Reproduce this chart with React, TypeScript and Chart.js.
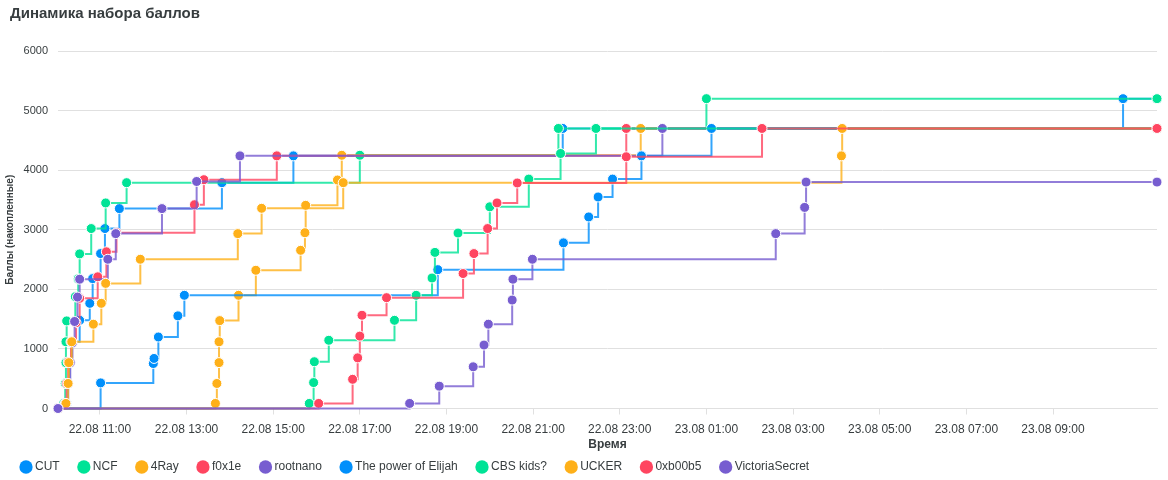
import { useEffect, useRef } from "react";
import { Chart, registerables } from "chart.js";

Chart.register(...registerables);

// ---------- data ----------
const teamNames = [
  "CUT",
  "NCF",
  "4Ray",
  "f0x1e",
  "rootnano",
  "The power of Elijah",
  "CBS kids?",
  "UCKER",
  "0xb00b5",
  "VictoriaSecret",
];

const teamColors = [
  "#008FFB",
  "#00E396",
  "#FEB019",
  "#FF4560",
  "#775DD0",
  "#008FFB",
  "#00E396",
  "#FEB019",
  "#FF4560",
  "#775DD0",
];

const xStart = "22.08 10:02";
const xEnd = "23.08 11:24";

const xTickLabels = [
  "22.08 11:00",
  "22.08 13:00",
  "22.08 15:00",
  "22.08 17:00",
  "22.08 19:00",
  "22.08 21:00",
  "22.08 23:00",
  "23.08 01:00",
  "23.08 03:00",
  "23.08 05:00",
  "23.08 07:00",
  "23.08 09:00",
];

const yTickValues = [0, 1000, 2000, 3000, 4000, 5000, 6000];

const cutTimes = [
  "22.08 10:02", "22.08 10:14", "22.08 10:16", "22.08 10:18", "22.08 10:21",
  "22.08 10:32", "22.08 10:46", "22.08 10:50", "22.08 11:01", "22.08 11:07",
  "22.08 11:27", "22.08 13:49", "22.08 15:28", "22.08 21:41", "23.08 10:37",
  "23.08 11:24",
];
const cutScores = [0, 85, 420, 770, 1120, 1480, 1765, 2180, 2600, 3020, 3355, 3790, 4240, 4700, 5200, 5200];

const ncfTimes = [
  "22.08 10:02", "22.08 10:10", "22.08 10:12", "22.08 10:13", "22.08 10:13",
  "22.08 10:14", "22.08 10:26", "22.08 10:30", "22.08 10:32", "22.08 10:48",
  "22.08 11:08", "22.08 11:37", "22.08 17:00", "22.08 21:35", "23.08 01:00",
  "23.08 11:24",
];
const ncfScores = [0, 85, 420, 770, 1120, 1470, 1875, 2175, 2595, 3020, 3450, 3790, 4250, 4700, 5200, 5200];

const ray4Times = [
  "22.08 10:02", "22.08 13:40", "22.08 13:42", "22.08 13:45", "22.08 13:45",
  "22.08 13:46", "22.08 14:12", "22.08 14:36", "22.08 15:38", "22.08 15:44",
  "22.08 15:45", "22.08 16:29", "22.08 16:35", "22.08 23:29", "23.08 11:24",
];
const ray4Scores = [0, 85, 420, 770, 1120, 1475, 1900, 2320, 2655, 2950, 3410, 3835, 4250, 4700, 4700];

const f0x1eTimes = [
  "22.08 10:02", "22.08 10:12", "22.08 10:14", "22.08 10:16", "22.08 10:20",
  "22.08 10:27", "22.08 10:32", "22.08 10:57", "22.08 11:09", "22.08 11:23",
  "22.08 13:11", "22.08 13:24", "22.08 15:05", "22.08 23:09", "23.08 11:24",
];
const f0x1eScores = [0, 85, 420, 780, 1120, 1440, 1850, 2210, 2630, 2950, 3420, 3840, 4240, 4700, 4700];

const rootnanoTimes = [
  "22.08 10:02", "22.08 10:13", "22.08 10:16", "22.08 10:19", "22.08 10:22",
  "22.08 10:25", "22.08 10:29", "22.08 10:32", "22.08 11:11", "22.08 11:22",
  "22.08 12:26", "22.08 13:14", "22.08 14:14", "22.08 23:59", "23.08 11:24",
];
const rootnanoScores = [0, 85, 420, 770, 1100, 1460, 1870, 2170, 2505, 2935, 3355, 3810, 4240, 4700, 4700];

const elijahTimes = [
  "22.08 10:02", "22.08 11:01", "22.08 12:14", "22.08 12:15", "22.08 12:21",
  "22.08 12:48", "22.08 12:57", "22.08 18:48", "22.08 21:42", "22.08 22:17",
  "22.08 22:30", "22.08 22:50", "22.08 23:30", "23.08 01:07", "23.08 11:24",
];
const elijahScores = [0, 430, 755, 840, 1200, 1555, 1900, 2330, 2780, 3215, 3550, 3850, 4240, 4700, 4700];

const cbsTimes = [
  "22.08 10:02", "22.08 15:50", "22.08 15:56", "22.08 15:57", "22.08 16:17",
  "22.08 17:48", "22.08 18:18", "22.08 18:40", "22.08 18:44", "22.08 19:16",
  "22.08 20:00", "22.08 20:54", "22.08 21:38", "22.08 22:27", "23.08 11:24",
];
const cbsScores = [0, 85, 435, 785, 1145, 1480, 1900, 2190, 2620, 2945, 3385, 3850, 4280, 4700, 4700];

const uckerTimes = [
  "22.08 10:02", "22.08 10:13", "22.08 10:16", "22.08 10:17", "22.08 10:21",
  "22.08 10:51", "22.08 11:02", "22.08 11:08", "22.08 11:56", "22.08 14:11",
  "22.08 14:44", "22.08 16:37", "23.08 04:07", "23.08 04:08", "23.08 11:24",
];
const uckerScores = [0, 85, 420, 770, 1120, 1415, 1765, 2100, 2505, 2935, 3360, 3790, 4240, 4700, 4700];

const b00b5Times = [
  "22.08 10:02", "22.08 16:03", "22.08 16:50", "22.08 16:57", "22.08 17:00",
  "22.08 17:03", "22.08 17:37", "22.08 19:23", "22.08 19:38", "22.08 19:57",
  "22.08 20:10", "22.08 20:38", "22.08 23:09", "23.08 02:17", "23.08 11:24",
];
const b00b5Scores = [0, 85, 490, 850, 1215, 1565, 1860, 2265, 2600, 3020, 3450, 3785, 4225, 4700, 4700];

const victoriaTimes = [
  "22.08 10:02", "22.08 18:09", "22.08 18:50", "22.08 19:37", "22.08 19:52",
  "22.08 19:58", "22.08 20:31", "22.08 20:32", "22.08 20:59", "23.08 02:36",
  "23.08 03:16", "23.08 03:18", "23.08 11:24",
];
const victoriaScores = [0, 85, 375, 700, 1065, 1415, 1820, 2170, 2505, 2935, 3375, 3800, 3800];

const teamTimes = [
  cutTimes, ncfTimes, ray4Times, f0x1eTimes, rootnanoTimes,
  elijahTimes, cbsTimes, uckerTimes, b00b5Times, victoriaTimes,
];
const teamScores = [
  cutScores, ncfScores, ray4Scores, f0x1eScores, rootnanoScores,
  elijahScores, cbsScores, uckerScores, b00b5Scores, victoriaScores,
];

// ---------- helpers ----------
function parseTime(s: string): number {
  const day = parseInt(s.slice(0, 2), 10);
  const hh = parseInt(s.slice(6, 8), 10);
  const mm = parseInt(s.slice(9, 11), 10);
  return (day - 22) * 24 + hh + mm / 60;
}

function formatTime(h: number): string {
  const total = Math.round(h * 60);
  const day = 22 + Math.floor(total / 1440);
  const rem = total % 1440;
  const hh = Math.floor(rem / 60);
  const mm = rem % 60;
  const p = (n: number) => String(n).padStart(2, "0");
  return `${p(day)}.08 ${p(hh)}:${p(mm)}`;
}

function withAlpha(hex: string, a: number): string {
  const r = parseInt(hex.slice(1, 3), 16);
  const g = parseInt(hex.slice(3, 5), 16);
  const b = parseInt(hex.slice(5, 7), 16);
  return `rgba(${r},${g},${b},${a})`;
}

const FONT = "'Liberation Sans', Arial, Helvetica, sans-serif";
const TEXT = "#373d3f";
const GRID = "#e0e0e0";

const legendShift = {
  id: "legendShift",
  afterLayout(chart: any) {
    if (chart.legend) chart.legend.left -= 8.2;
  },
};

export default function App() {
  const canvasRef = useRef<HTMLCanvasElement | null>(null);

  useEffect(() => {
    if (!canvasRef.current) return;
    const n = teamNames.length;
    const datasets = teamNames.map((name, i) => ({
      label: name,
      data: teamTimes[i].map((t, j) => ({ x: parseTime(t), y: teamScores[i][j] })),
      stepped: true as const,
      borderColor: withAlpha(teamColors[i], 0.8),
      backgroundColor: teamColors[i],
      borderWidth: 2,
      pointRadius: 5,
      pointBackgroundColor: teamColors[i],
      pointBorderColor: "#ffffff",
      pointBorderWidth: 1,
      fill: false,
      clip: false as const,
      order: n - i,
    }));

    const chart = new Chart(canvasRef.current, {
      type: "line",
      data: { datasets },
      plugins: [legendShift],
      options: {
        animation: false,
        responsive: true,
        maintainAspectRatio: false,
        events: [],
        layout: { padding: { left: 10, right: 11, top: 0, bottom: 0 } },
        plugins: {
          tooltip: { enabled: false },
          title: {
            display: true,
            text: "Динамика набора баллов",
            align: "start",
            color: TEXT,
            font: { family: FONT, size: 15, weight: "bold" },
            padding: { top: 5, bottom: 28 },
          },
          legend: {
            display: true,
            position: "bottom",
            align: "start",
            maxHeight: 40.2,
            labels: {
              usePointStyle: true,
              boxWidth: 6,
              boxHeight: 9.4,
              padding: 21.2,
              color: TEXT,
              font: { family: FONT, size: 12 },
              generateLabels: (c: any) =>
                c.data.datasets.map((ds: any, i: number) => ({
                  text: ds.label,
                  fillStyle: teamColors[i],
                  strokeStyle: teamColors[i],
                  lineWidth: 0,
                  pointStyle: "circle",
                  hidden: false,
                  datasetIndex: i,
                  fontColor: TEXT,
                })),
            },
          },
        },
        scales: {
          x: {
            type: "linear",
            min: parseTime(xStart),
            max: parseTime(xEnd),
            afterBuildTicks: (scale: any) => {
              scale.ticks = xTickLabels.map((l) => ({ value: parseTime(l) }));
            },
            afterFit: (scale: any) => {
              scale.height = 31.3;
            },
            ticks: {
              autoSkip: false,
              maxRotation: 0,
              padding: 7.5,
              color: TEXT,
              font: { family: FONT, size: 12 },
              callback: (v: any) => formatTime(Number(v)),
            },
            grid: {
              drawOnChartArea: false,
              drawTicks: true,
              tickLength: 6,
              color: GRID,
            },
            border: { display: true, color: GRID },
            title: {
              display: true,
              text: "Время",
              color: TEXT,
              font: { family: FONT, size: 12, weight: "bold" },
              padding: { top: 0, bottom: -11.9 },
            },
          },
          y: {
            type: "linear",
            min: 0,
            max: 6000,
            afterBuildTicks: (scale: any) => {
              scale.ticks = yTickValues.map((v) => ({ value: v }));
            },
            afterFit: (scale: any) => {
              scale.width = 48;
            },
            ticks: {
              padding: 10,
              color: TEXT,
              font: { family: FONT, size: 11 },
              callback: (v: any) => String(v),
            },
            grid: { drawTicks: false, color: GRID },
            border: { display: false },
            title: {
              display: true,
              text: "Баллы (накопленные)",
              color: TEXT,
              font: { family: FONT, size: 10, weight: "bold" },
              padding: { top: -6, bottom: 0 },
            },
          },
        },
      },
    });
    return () => chart.destroy();
  }, []);

  return (
    <div style={{ position: "absolute", left: 0, top: 0, width: 1168, height: 480 }}>
      <canvas ref={canvasRef} />
    </div>
  );
}
